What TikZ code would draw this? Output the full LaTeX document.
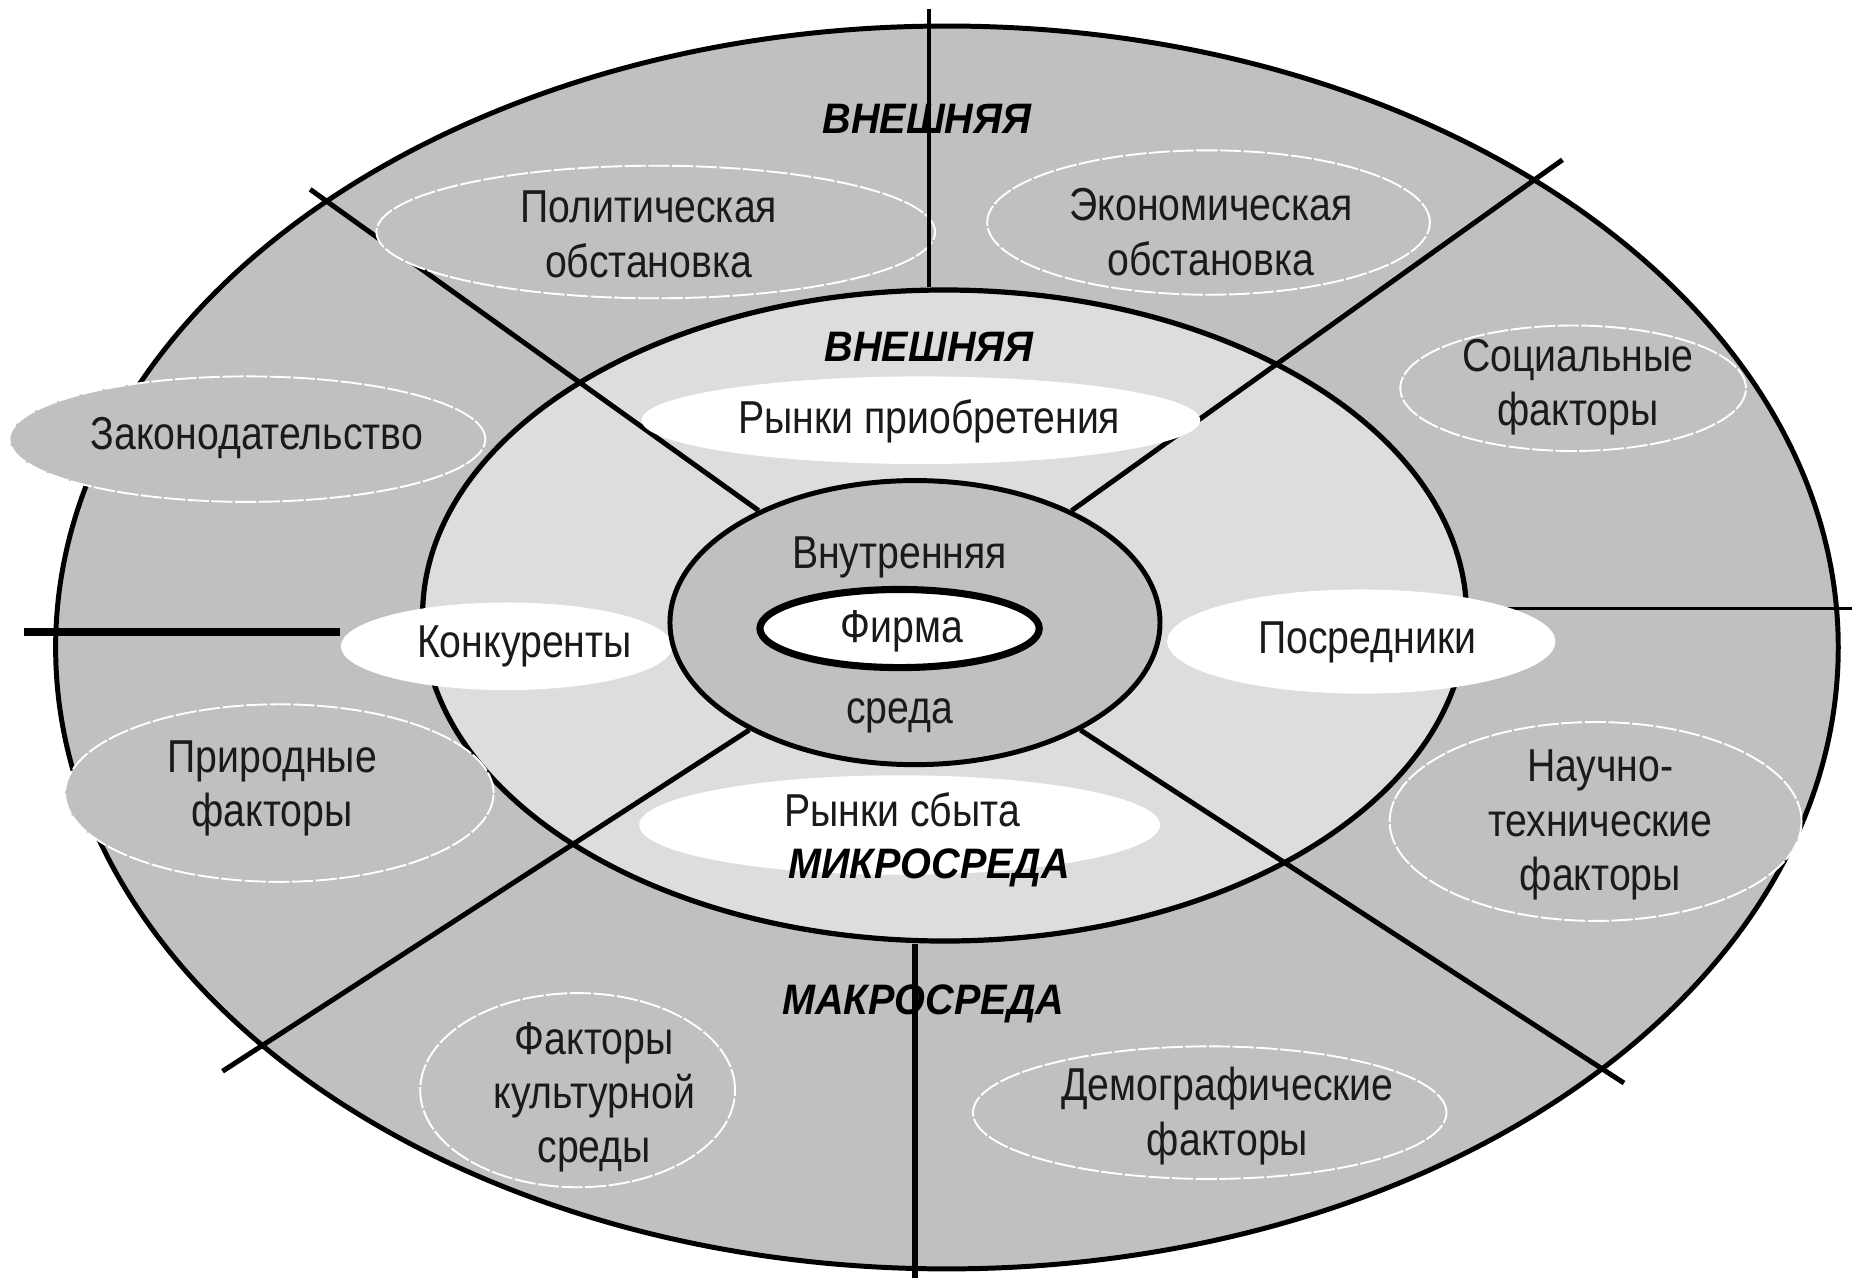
\documentclass[tikz,border=0pt]{standalone}
\usepackage{fontspec}
\setmainfont{Liberation Sans}[FakeStretch=0.85]
\newfontfamily\lblfont{Liberation Sans}[FakeStretch=0.93]
\usetikzlibrary{shapes.geometric}
\pgfdeclarelayer{bg}
\pgfdeclarelayer{lines}
\pgfdeclarelayer{grayel}
\pgfdeclarelayer{topl}
\pgfsetlayers{bg,lines,grayel,topl,main}
\definecolor{ringgray}{HTML}{C0C0C0}
\definecolor{ltgray}{HTML}{DDDDDD}
\definecolor{ink}{HTML}{1A1A1A}
\tikzset{
  ov/.style 2 args={ellipse, inner sep=0pt, minimum width=#1pt, minimum height=#2pt},
  ring/.style={draw=black, line width=2.1pt},
  grayell/.style={fill=ringgray, draw=white, line width=0.8pt, dash pattern=on 9pt off 1pt},
  whiteell/.style={fill=white},
  divider/.style={draw=black, line width=2.1pt},
  txt/.style={font=\fontsize{19.5}{23}\selectfont, text=ink, align=center, inner sep=0pt},
  lbl/.style={font=\lblfont\fontsize{18}{20}\selectfont\bfseries\itshape, text=black, inner sep=0pt}
}
\begin{document}
\begin{tikzpicture}[x=0.5pt,y=-0.5pt]
\useasboundingbox (0,0) rectangle (1568,1085);

% rings
\begin{pgfonlayer}{bg}
\fill[white] (0,0) rectangle (1568,1085);
\node[ov={753}{525}, fill=ringgray, ring] (outer) at (800,547) {};
\node[ov={441}{275}, fill=ltgray, draw=black, line width=2.2pt] (middle) at (798,520) {};
\end{pgfonlayer}

\node[ov={207}{120}, fill=ringgray, ring] (inner) at (773,526) {};
\node[ov={118}{33}, fill=white, draw=black, line width=3pt] (firm) at (760,531) {};

% free ends of dividers
\coordinate (tv) at (785,8);
\coordinate (bv) at (773,1080);
\coordinate (lh) at (20,534);
\coordinate (rh) at (1565,514);
\coordinate (ul) at (262,160);
\coordinate (ur) at (1320,135);
\coordinate (ll) at (188,905);
\coordinate (lr) at (1372,915);

% white ellipses of the micro-environment
\begin{pgfonlayer}{topl}
\node[ov={236}{37}, whiteell] (buy) at (778,355) {};
\node[ov={140}{37}, whiteell] (konk) at (428,546) {};
\node[ov={164}{44}, whiteell] (posr) at (1150,542) {};
\node[ov={220}{42}, whiteell] (sell) at (760,697) {};
\end{pgfonlayer}

% dividers
\begin{pgfonlayer}{lines}
\draw[divider] (ul) -- (inner);
\draw[divider] (ur) -- (inner);
\draw[divider] (ll) -- (inner);
\draw[divider] (lr) -- (inner);
\draw[divider, line width=2.3pt] (bv) -- (bv |- middle.south);
\draw[divider, line width=3.5pt] (lh) -- (lh -| konk.west);
\draw[divider, line width=1.6pt] (rh -| middle.east) -- (rh);
\end{pgfonlayer}
\begin{pgfonlayer}{topl}
\draw[divider, line width=1.6pt] (tv) -- (tv |- middle.north);
\end{pgfonlayer}

% grey ellipses of the macro-environment
\begin{pgfonlayer}{grayel}
\node[ov={236}{56}, grayell] (pol) at (554,196) {};
\node[ov={187}{61}, grayell] (eco) at (1021,188) {};
\node[ov={146}{53}, grayell] (soc) at (1329,328) {};
\node[ov={201}{53}, grayell] (law) at (209,371) {};
\node[ov={181}{75}, grayell] (nat) at (236,670) {};
\node[ov={174}{84}, grayell] (sci) at (1348,694) {};
\node[ov={133}{82}, grayell] (cult) at (488,921) {};
\node[ov={200}{56}, grayell] (dem) at (1022,940) {};
\end{pgfonlayer}

% texts
\node[txt] (tpol) at (548,198) {Политическая\\обстановка};
\node[txt] (teco) at (1023,196) {Экономическая\\обстановка};
\node[txt] (tsoc) at (1333,327) {Социальные\\факторы};
\node[txt] (tlaw) at (217,370) {Законодательство};
\node[txt] (tnat) at (230,666) {Природные\\факторы};
\node[txt] (tsci) at (1352,697) {Научно-\\технические\\факторы};
\node[txt] (tcult) at (502,927) {Факторы\\культурной\\среды};
\node[txt] (tdem) at (1037,943) {Демографические\\факторы};

\node[txt] (tbuy) at (785,356) {Рынки приобретения};
\node[txt] (tkonk) at (443,546) {Конкуренты};
\node[txt] (tposr) at (1155,543) {Посредники};
\node[txt] (tsell) at (762,684) {Рынки сбыта};

\node[txt] (tin1) at (760,471) {Внутренняя};
\node[txt] (tin2) at (760,605) {среда};
\node[txt] (tfirm) at (762,533) {Фирма};

\node[lbl] (ext1) at (783,100) {ВНЕШНЯЯ};
\node[lbl] (ext2) at (785,293) {ВНЕШНЯЯ};
\node[lbl] (micro) at (785,733) {МИКРОСРЕДА};
\node[lbl] (macro) at (780,848) {МАКРОСРЕДА};
\end{tikzpicture}
\end{document}
